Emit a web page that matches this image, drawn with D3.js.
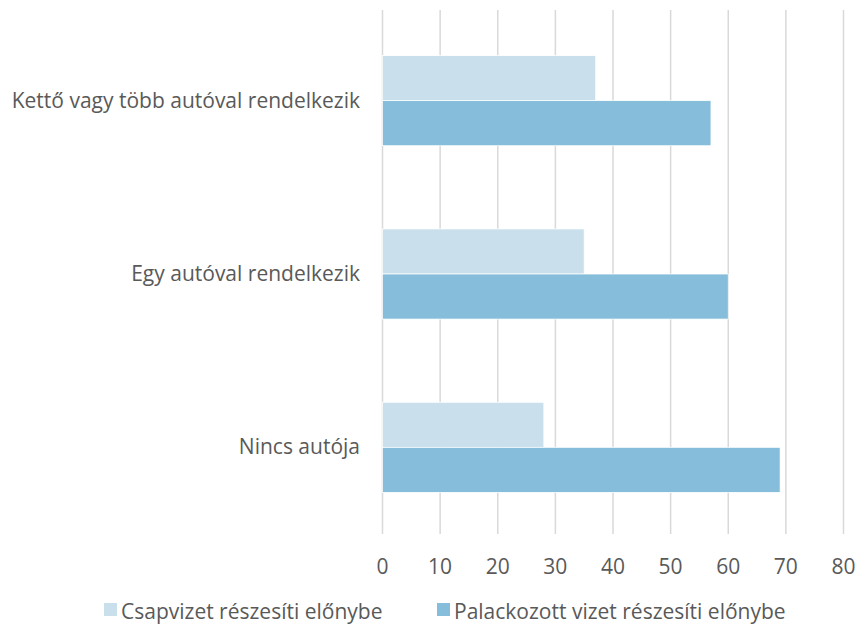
<!DOCTYPE html>
<html>
<head>
<meta charset="utf-8">
<script src="https://cdn.jsdelivr.net/npm/d3@7"></script>
<style>
  body { margin: 0; background: #fff; }
  text { font-family: "Open Sans", "Liberation Sans", sans-serif; fill: #595959; }
</style>
</head>
<body>
<script>
const categories = ["Kettő vagy több autóval rendelkezik", "Egy autóval rendelkezik", "Nincs autója"];
const seriesNames = ["Csapvizet részesíti előnybe", "Palackozott vizet részesíti előnybe"];
const tapWater = [37, 35, 28];
const bottledWater = [57, 60, 69];
const xTicks = [0, 10, 20, 30, 40, 50, 60, 70, 80];
const colors = ["#c9dfec", "#86bdda"];

const width = 858, height = 629;
const margin = { top: 14, right: 14.5, bottom: 95, left: 382.5 };

const svg = d3.select("body").append("svg")
    .attr("width", width)
    .attr("height", height);

const x = d3.scaleLinear()
    .domain([0, 80])
    .range([margin.left, width - margin.right]);

const y = d3.scaleBand()
    .domain(categories)
    .range([margin.top, height - margin.bottom])
    .paddingInner(0.48)
    .paddingOuter(0.24);

const ySeries = d3.scaleBand()
    .domain(seriesNames)
    .range([0, y.bandwidth()]);

// gridlines
svg.append("g")
    .selectAll("line")
    .data(xTicks)
    .join("line")
    .attr("x1", d => x(d))
    .attr("x2", d => x(d))
    .attr("y1", margin.top - 4)
    .attr("y2", height - margin.bottom)
    .attr("stroke", "#d9d9d9")
    .attr("stroke-width", 1.5);

// bars
const rows = categories.map((c, i) => ({ cat: c, values: [tapWater[i], bottledWater[i]] }));
const groups = svg.append("g")
    .selectAll("g")
    .data(rows)
    .join("g")
    .attr("transform", d => `translate(0,${y(d.cat)})`);

groups.selectAll("rect")
    .data(d => d.values.map((v, j) => ({ name: seriesNames[j], value: v, j })))
    .join("rect")
    .attr("x", x(0))
    .attr("y", d => ySeries(d.name))
    .attr("width", d => x(d.value) - x(0))
    .attr("height", ySeries.bandwidth())
    .attr("fill", d => colors[d.j])
    .attr("stroke", "#fff")
    .attr("stroke-width", 0.75);

// x axis tick labels
svg.append("g")
    .selectAll("text")
    .data(xTicks)
    .join("text")
    .attr("x", d => x(d))
    .attr("y", 574)
    .attr("text-anchor", "middle")
    .attr("font-size", 21)
    .text(d => d);

// category labels
svg.append("g")
    .selectAll("text")
    .data(categories)
    .join("text")
    .attr("x", 360)
    .attr("y", d => y(d) + y.bandwidth() / 2 + 7)
    .attr("text-anchor", "end")
    .attr("font-size", 21)
    .text(d => d);

// legend
const legendX = [104, 437];
const legend = svg.append("g")
    .selectAll("g")
    .data(seriesNames)
    .join("g")
    .attr("transform", (d, i) => `translate(${legendX[i]},603)`);

legend.append("rect")
    .attr("width", 13)
    .attr("height", 13)
    .attr("fill", (d, i) => colors[i]);

legend.append("text")
    .attr("x", 17)
    .attr("y", 16)
    .attr("font-size", 21)
    .text(d => d);
</script>
</body>
</html>
